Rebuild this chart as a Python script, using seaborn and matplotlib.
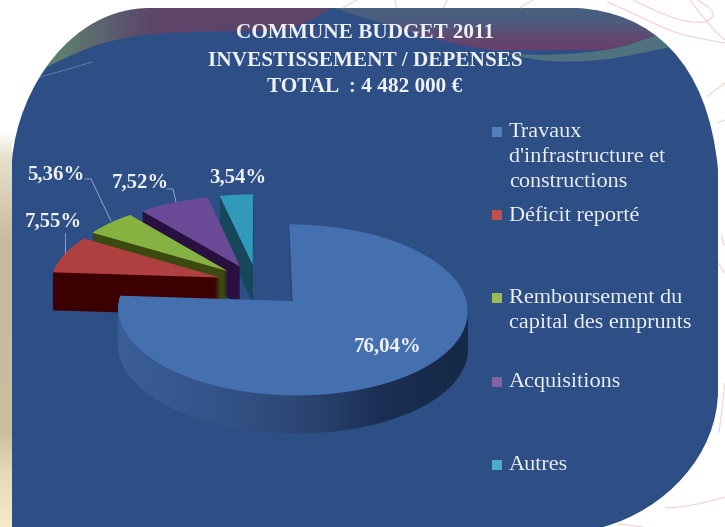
import numpy as np
import matplotlib
matplotlib.use('Agg')
import matplotlib.pyplot as plt
import matplotlib.transforms as mtransforms
from matplotlib.colors import LinearSegmentedColormap
from matplotlib.patches import PathPatch, Rectangle
from matplotlib.path import Path
import seaborn as sns

# data
categories = ['Travaux', 'Déficit reporté', 'Remboursement', 'Acquisitions', 'Autres']
values = [76.04, 7.55, 5.36, 7.52, 3.54]
legend_labels = ["Travaux\nd'infrastructure et\nconstructions", 'Déficit reporté',
                 'Remboursement du\ncapital des emprunts', 'Acquisitions', 'Autres']
title_lines = ['COMMUNE BUDGET 2011', 'INVESTISSEMENT / DEPENSES', 'TOTAL  : 4 482 000 €']

# style
explode = [0.30, 0.23, 0.23, 0.23, 0.23]
top_colors = ['#4470b0', '#b0403f', '#86b242', '#6b4a98', '#3399bb']
wall_colors = ['#2d4877', '#3d0000', '#3b4a10', '#2a1040', '#17475a']
legend_colors = ['#4f81bd', '#c0504d', '#9bbb59', '#8064a2', '#4bacc6']
draw_order = [4, 3, 2, 1, 0]
panel_color = '#2d4f85'
text_color = '#eef0f4'
depth = 38


class Tilt(mtransforms.Transform):
    """unit pie -> pixels, far side a bit smaller"""
    input_dims = 2
    output_dims = 2
    is_affine = False

    def __init__(self, drop=0):
        super().__init__()
        self.drop = drop

    def transform_non_affine(self, xy):
        xy = np.asarray(xy, dtype=float)
        w = 1 + 0.1 * xy[:, 1]
        return np.column_stack([257 + 170 * xy[:, 0] / w,
                                283 - 81 * xy[:, 1] / w + self.drop])


def smooth_path(points, close=False):
    # quadratic curve through the midpoints of the given outline
    pts = np.array(points, dtype=float)
    verts = [pts[0]]
    codes = [Path.MOVETO]
    for i in range(1, len(pts) - 1):
        verts += [pts[i], (pts[i] + pts[i + 1]) / 2 if i < len(pts) - 2 else pts[i + 1]]
        codes += [Path.CURVE3, Path.CURVE3]
    if close:
        verts.append(pts[0])
        codes.append(Path.CLOSEPOLY)
    return Path(verts, codes)


def gradient(stops, extent, horizontal, clip, zorder):
    cmap = LinearSegmentedColormap.from_list('g', stops)
    shape = (1, -1) if horizontal else (-1, 1)
    im = ax.imshow(np.linspace(0, 1, 256).reshape(shape), cmap=cmap, extent=extent, aspect='auto', zorder=zorder)
    im.set_clip_path(clip, transform=ax.transData)
    return im


sns.set_theme(style='white')
plt.rcParams['font.family'] = ['Liberation Serif', 'DejaVu Serif']

fig = plt.figure(figsize=(7.25, 5.27), dpi=100, facecolor='white')
ax = fig.add_axes([0, 0, 1, 1])

# panel colour first, the outside is masked later
ax.add_patch(Rectangle((0, 0), 725, 527, facecolor=panel_color, edgecolor='none', zorder=1))

# swooshes on the panel
left_shape = smooth_path([(-10, 100), (40, 70), (67, 57), (100, 43), (150, 33), (233, 31), (285, 31),
                          (312, 20), (335, 6), (345, -10), (-10, -10), (-10, 100)], close=True)
gradient([(0, '#5f8070'), (0.12, '#5f8070'), (0.3, '#5b5a6e'), (0.42, '#5e4468'), (1, '#5e4468')],
         (20, 340, 90, 0), True, left_shape, 1.5)

right_shape = smooth_path([(333, 8), (400, 30), (467, 47), (533, 55), (600, 52), (653, 38), (700, 20), (740, 20),
                           (740, -10), (333, -10), (333, 8)], close=True)
gradient(['#47617f', '#4b5d7e', '#5f4a72', '#6b3f68'], (330, 725, 50, 8), False, right_shape, 1.5)

ax.add_patch(PathPatch(smooth_path([(505, 53), (533, 56), (600, 52), (640, 42), (690, 22), (700, 40), (640, 54),
                                    (590, 62), (533, 61), (505, 53)], close=True),
                       facecolor='#4f7180', edgecolor='none', zorder=1.55))
ax.plot([40, 65, 92], [77, 70, 62], color='#5a77a4', lw=0.8, zorder=1.6)

# white outside the panel (outer box runs the other way round so the panel stays a hole)
mask = Path([(-5, -5), (-5, 532), (730, 532), (730, -5), (-5, -5),
             (12, 532), (12, 160), (18, 90), (70, 8), (150, 8), (577, 8), (650, 12),
             (708, 60), (718, 170), (718, 390), (718, 455), (665, 510), (603, 527), (590, 532), (12, 532)],
            [Path.MOVETO, Path.LINETO, Path.LINETO, Path.LINETO, Path.CLOSEPOLY,
             Path.MOVETO, Path.LINETO, Path.CURVE4, Path.CURVE4, Path.CURVE4, Path.LINETO, Path.CURVE4,
             Path.CURVE4, Path.CURVE4, Path.LINETO, Path.CURVE4, Path.CURVE4, Path.CURVE4, Path.LINETO,
             Path.CLOSEPOLY])
ax.add_patch(PathPatch(mask, facecolor='white', edgecolor='none', zorder=2))

# left strip
strip = Path([(0, 130), (12, 130), (12, 527), (0, 527), (0, 130)],
             [Path.MOVETO, Path.LINETO, Path.LINETO, Path.LINETO, Path.CLOSEPOLY])
gradient([(0, '#ffffff'), (0.07, '#e8e0cc'), (0.18, '#d8ccb2'), (0.28, '#c9b99d'), (0.76, '#cdbd9f'),
          (0.86, '#e6d8b4'), (1, '#f6eac8')], (0, 12, 527, 130), False, strip, 3)

# contour lines outside the panel
contours = [
    [(343, 8), (350, 3), (357, 0)],
    [(397, 8), (395, 4), (395, 0)],
    [(443, 8), (446, 4), (447, 0)],
    [(520, 8), (526, 4), (533, 0)],
    [(633, 0), (667, 17), (700, 24), (714, 18), (712, 8), (697, 0)],
    [(607, 2), (633, 13), (667, 30), (695, 38), (725, 43)],
    [(690, 0), (712, 30), (725, 40)],
    [(707, 97), (715, 90), (725, 83)],
    [(717, 123), (721, 121), (725, 120)],
    [(725, 273), (720, 268), (719, 263)],
    [(723, 235), (720, 240), (725, 245)],
    [(719, 433), (722, 410), (725, 383)],
    [(665, 508), (693, 507), (725, 497)],
    [(617, 524), (630, 525), (643, 527)],
]
for pts in contours:
    ax.add_patch(PathPatch(smooth_path(pts), facecolor='none', edgecolor='#f3d2cc', lw=0.8, zorder=3))

# pie : stack of pies going down for the walls, top surface last
blue_paths = []
for layer in range(depth, -1, -1):
    tilt = Tilt(layer)
    wedges, _ = ax.pie(values, explode=explode, startangle=90, counterclock=False)
    for i, wedge in enumerate(wedges):
        wedge.set_transform(tilt + ax.transData)
        wedge.set_facecolor(top_colors[i] if layer == 0 else wall_colors[i])
        wedge.set_edgecolor('none')
        wedge.set_linewidth(0)
        wedge.set_zorder(10 + draw_order[i] * 100 + (depth - layer))
        if i == 0 and layer > 0:
            blue_paths.append(tilt.transform_path(wedge.get_path()))

# shading on the blue wall
gradient(['#3b5e98', '#34558a', '#2d4877', '#1b2f54', '#152846'], (118, 470, 440, 290), True,
         Path.make_compound_path(*blue_paths), 10 + 400 + depth - 0.5)

ax.set_xlim(0, 725)
ax.set_ylim(527, 0)
ax.set_aspect('auto')
ax.set_axis_off()

# title
for line, y in zip(title_lines, [33, 61, 87]):
    ax.text(365, y, line, color=text_color, fontsize=15.3, fontweight='bold', ha='center', va='center', zorder=1000)

# value labels
label_pos = [(388, 347), (53, 222), (56, 175), (140, 183), (238, 178)]
for v, (x, y) in zip(values, label_pos):
    ax.text(x, y, f'{v:.2f}'.replace('.', ',') + '%', color=text_color, fontsize=15, fontweight='bold',
            ha='center', va='center', zorder=1000)

# leader lines
leaders = [([85, 91, 111], [179, 179, 221]), ([65, 65], [233, 253]), ([167, 173, 176], [189, 189, 202])]
for xs, ys in leaders:
    ax.plot(xs, ys, color='#9fb0c8', lw=0.6, zorder=1000)

# legend
legend_y = [132, 215, 298, 382, 465]
for label, col, y in zip(legend_labels, legend_colors, legend_y):
    ax.scatter([497], [y], marker='s', s=52, color=col, linewidths=0, zorder=1000)
    ax.text(509, y - 9, label, color=text_color, fontsize=16, linespacing=1.44, ha='left', va='top', zorder=1000)

fig.savefig('out.png', dpi=100)
